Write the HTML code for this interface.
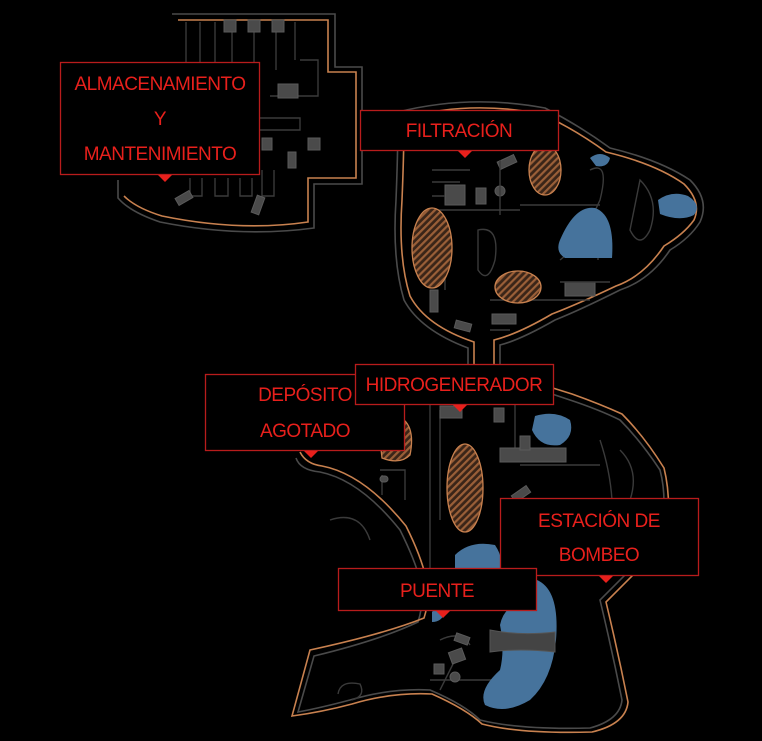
<!DOCTYPE html>
<html><head><meta charset="utf-8"><style>
html,body{margin:0;padding:0;background:#000;}
svg{display:block}
.t{font-family:"Liberation Sans",sans-serif;font-size:19px;fill:#e8201c;text-anchor:middle;letter-spacing:-0.5px}
.box{fill:#000;stroke:#b81c1c;stroke-width:1.3}
.o{fill:none;stroke:#c8814f;stroke-width:1.6}
.g{fill:none;stroke:#4a4a4a;stroke-width:1.6}
.gi{fill:none;stroke:#3a3a3a;stroke-width:1.4}
.b{fill:#46739c}
.bl{fill:#4a4a4a;stroke:#5a5a5a;stroke-width:1}
.h{fill:url(#hatch);stroke:#c8814f;stroke-width:1.3}
</style></head><body>
<svg width="762" height="741" viewBox="0 0 762 741" xmlns="http://www.w3.org/2000/svg">
<defs>
<pattern id="hatch" width="5" height="5" patternUnits="userSpaceOnUse" patternTransform="rotate(45)">
<rect width="5" height="5" fill="#3a2518"/><rect width="2.2" height="5" fill="#9a5f38"/>
</pattern>
</defs>
<rect width="762" height="741" fill="#000"/>

<!-- top-left building -->
<path class="g" d="M172,14 H335 V67 H362 V184 H314 V228 Q240,238 160,222 Q130,212 118,198 L118,180"/>
<path class="o" d="M178,20 H328 V72 H356 V178 H308 V222 Q240,232 162,216 Q136,208 124,196"/>
<path class="gi" d="M186,22 V80 M200,22 V80 M215,22 V80 M232,22 V70 M254,22 V70 M276,22 V70 M295,22 V60 M300,60 H318 V96 H270"/>
<rect class="bl" x="224" y="20" width="12" height="12"/><rect class="bl" x="248" y="20" width="12" height="12"/><rect class="bl" x="272" y="20" width="12" height="12"/>
<rect class="bl" x="278" y="84" width="20" height="14"/>
<path class="gi" d="M244,118 H300 V130 H244 Z"/>
<rect class="bl" x="240" y="138" width="10" height="12"/><rect class="bl" x="262" y="138" width="10" height="12"/>
<rect class="bl" x="288" y="152" width="8" height="16"/><rect class="bl" x="308" y="138" width="12" height="12"/>
<path class="gi" d="M190,178 V196 H202 V178 M215,178 V196 H228 V178 M240,178 V196 H252 V178 M262,170 V196 H274 V170"/>
<rect class="bl" x="176" y="194" width="16" height="8" transform="rotate(-30 184 198)"/>
<rect class="bl" x="254" y="196" width="8" height="18" transform="rotate(20 258 205)"/>

<!-- upper right island -->
<path class="g" d="M398,112 Q470,94 545,108 Q580,126 610,148 Q660,160 690,180 Q710,200 700,222 Q690,238 670,250 Q650,280 620,290 Q580,310 555,320 Q520,340 500,345 V365 M468,365 V348 Q420,330 404,300 Q392,260 396,200 Q398,150 398,112"/>
<path class="o" d="M404,118 Q470,100 542,114 Q576,130 606,152 Q656,164 684,184 Q702,202 694,220 Q684,234 664,246 Q644,276 616,286 Q578,304 552,314 Q518,334 494,340 V365 M474,365 V342 Q426,326 410,296 Q398,258 402,200 Q404,152 404,118"/>
<rect class="bl" x="445" y="185" width="20" height="20"/><rect class="bl" x="476" y="188" width="10" height="16"/>
<circle class="bl" cx="500" cy="191" r="5"/>
<rect class="bl" x="498" y="158" width="18" height="8" transform="rotate(-25 507 162)"/>
<rect class="bl" x="455" y="322" width="16" height="8" transform="rotate(15 463 326)"/>
<rect class="bl" x="492" y="314" width="24" height="10"/>
<rect class="bl" x="565" y="282" width="30" height="14"/>
<rect class="bl" x="430" y="290" width="8" height="22"/>
<path class="gi" d="M432,170 H470 M432,182 H460 M432,196 H445 M432,210 H520 M445,228 V290 M500,160 V215 M520,205 H600 M560,282 H610 M490,300 H590 M490,330 H510 M598,220 V260"/>
<path class="gi" d="M478,230 Q500,225 495,260 Q488,285 478,270 Z M590,170 Q610,160 600,200 Q580,245 560,260 M640,180 Q660,200 650,230 Q640,250 630,230 Z"/>
<ellipse class="h" cx="432" cy="248" rx="20" ry="40"/>
<ellipse class="h" cx="545" cy="170" rx="16" ry="25"/>
<ellipse class="h" cx="518" cy="287" rx="23" ry="16"/>
<path class="b" d="M590,158 Q600,150 610,158 Q608,168 596,166 Z"/>
<path class="b" d="M658,200 Q672,190 688,196 Q702,205 694,215 Q680,222 660,214 Z"/>
<path class="b" d="M560,240 Q575,205 595,208 Q615,215 612,258 H565 Q555,252 560,240 Z"/>

<!-- lower island -->
<path class="g" d="M296,458 Q300,470 320,472 Q360,480 400,530 Q415,560 420,580 Q425,600 418,622 Q380,640 314,656 L298,712 Q320,708 350,700 Q390,688 430,690 Q465,705 480,720 Q520,730 590,728 Q620,720 622,700 Q612,650 600,600 Q640,560 660,540 Q668,500 660,470 Q640,440 620,420 Q600,410 570,400 Q540,390 510,380"/>
<path class="o" d="M300,452 Q306,464 322,466 Q364,474 406,526 Q421,556 426,578 Q430,600 424,618 Q384,634 310,650 L292,716 Q322,712 352,704 Q392,692 432,694 Q466,709 482,724 Q520,734 592,732 Q626,724 628,702 Q618,652 606,602 Q646,562 666,542 Q672,500 664,468 Q644,436 622,414 Q600,404 572,394 Q540,384 508,374"/>
<path class="gi" d="M430,400 V580 M440,410 V520 M515,400 V450 M500,450 H560 M520,465 H600 M600,440 Q610,470 612,500 M620,450 Q640,470 630,500 M380,470 H405 V500 M382,475 V495 M330,520 Q360,510 370,540 M440,640 Q460,630 470,645 M460,650 L440,690 M430,680 H500"/>
<rect class="bl" x="440" y="406" width="22" height="12"/><rect class="bl" x="494" y="408" width="10" height="14"/>
<rect class="bl" x="500" y="448" width="66" height="14"/><rect class="bl" x="520" y="436" width="10" height="14"/>
<rect class="bl" x="512" y="490" width="18" height="8" transform="rotate(-35 521 494)"/>
<rect class="bl" x="380" y="476" width="8" height="6" rx="3"/>
<ellipse class="h" cx="465" cy="488" rx="18" ry="44"/>
<path class="h" d="M380,440 L404,420 Q415,430 410,455 Q400,465 382,458 Z"/>
<path class="b" d="M535,416 Q555,410 570,420 Q575,436 560,445 Q540,448 532,430 Z"/>
<path class="b" d="M455,555 Q470,540 495,545 Q505,560 500,575 H455 Z"/>
<path class="b" d="M537,580 Q560,590 556,640 Q552,680 530,700 Q505,715 485,705 Q478,690 500,670 Q505,650 500,625 Q505,600 537,600 Z"/>
<path class="b" d="M432,612 Q438,604 445,612 Q442,622 432,622 Z"/>
<path fill="#444" stroke="#555" d="M490,630 Q520,636 555,632 V652 Q520,648 490,652 Z"/>
<rect class="bl" x="455" y="635" width="14" height="8" transform="rotate(20 462 639)"/>
<rect class="bl" x="450" y="650" width="14" height="12" transform="rotate(-20 457 656)"/>
<rect class="bl" x="434" y="664" width="10" height="10"/>
<circle class="bl" cx="455" cy="677" r="5"/>
<path class="gi" d="M338,694 Q340,680 360,684 Q366,696 352,700"/>

<!-- labels -->
<rect class="box" x="60.5" y="62.5" width="199" height="112"/>
<path d="M158,175 H172 L165,182 Z" fill="#e8201c"/>
<text class="t" x="160" y="90">ALMACENAMIENTO</text>
<text class="t" x="160" y="125">Y</text>
<text class="t" x="160" y="160">MANTENIMIENTO</text>

<rect class="box" x="360.5" y="110.5" width="198" height="40"/>
<path d="M458,151 H472 L465,158 Z" fill="#e8201c"/>
<text class="t" x="459" y="137">FILTRACIÓN</text>

<rect class="box" x="205.5" y="374.5" width="199" height="76"/>
<path d="M304,451 H318 L311,458 Z" fill="#e8201c"/>
<text class="t" x="305" y="401">DEPÓSITO</text>
<text class="t" x="305" y="437">AGOTADO</text>

<rect class="box" x="355.5" y="364.5" width="198" height="40"/>
<path d="M453,405 H467 L460,412 Z" fill="#e8201c"/>
<text class="t" x="454" y="391">HIDROGENERADOR</text>

<rect class="box" x="500.5" y="498.5" width="198" height="77"/>
<path d="M599,576 H613 L606,583 Z" fill="#e8201c"/>
<text class="t" x="599" y="527">ESTACIÓN DE</text>
<text class="t" x="599" y="561">BOMBEO</text>

<rect class="box" x="338.5" y="568.5" width="198" height="42"/>
<path d="M436,611 H450 L443,618 Z" fill="#e8201c"/>
<text class="t" x="437" y="597">PUENTE</text>
</svg>
</body></html>
